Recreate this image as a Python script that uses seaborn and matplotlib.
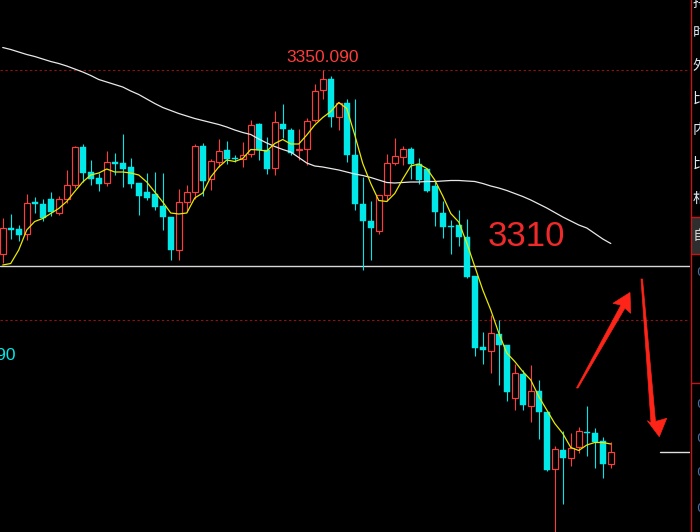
import numpy as np
import pandas as pd
import matplotlib
matplotlib.use("Agg")
import matplotlib.pyplot as plt
from matplotlib.patches import Polygon, Rectangle
import seaborn as sns

# K线数据
opens = [3313.1, 3318.4, 3318.1, 3317.1, 3323.5, 3323.2, 3324.1, 3321.3, 3324.1, 3326.9,
         3334.6, 3329.6, 3328.4, 3327.3, 3331.6, 3331.4, 3330.6, 3327.4, 3325.5, 3325.2,
         3322.8, 3320.6, 3313.9, 3323.5, 3325.5, 3334.8, 3328.1, 3331.5, 3334.0, 3332.4,
         3332.1, 3333.1, 3339.1, 3334.0, 3330.3, 3339.2, 3338.0, 3333.9, 3334.1, 3339.9,
         3345.9, 3348.2, 3340.5, 3343.4, 3333.0, 3323.2, 3319.8, 3317.7, 3324.9, 3331.3,
         3332.7, 3334.2, 3331.1, 3330.1, 3326.8, 3321.4, 3318.7, 3319.0, 3316.5, 3308.8,
         3294.6, 3293.7, 3297.2, 3295.0, 3284.3, 3289.2, 3282.7, 3285.8, 3281.6, 3270.1,
         3274.0, 3272.3, 3274.5, 3277.5, 3277.4, 3275.8, 3271.1]
highs = [3320.3, 3321.2, 3319.0, 3325.2, 3324.6, 3324.1, 3325.5, 3324.8, 3330.0, 3334.8,
         3335.2, 3332.0, 3329.3, 3333.8, 3333.3, 3337.2, 3332.4, 3327.4, 3329.4, 3329.6,
         3329.4, 3320.6, 3326.1, 3326.9, 3335.2, 3335.3, 3332.1, 3336.1, 3335.8, 3333.0,
         3335.5, 3340.0, 3339.4, 3336.7, 3341.8, 3343.2, 3338.3, 3338.2, 3340.4, 3347.1,
         3350.09, 3348.8, 3343.7, 3344.1, 3344.2, 3328.7, 3323.7, 3325.0, 3333.1, 3336.4,
         3334.8, 3334.5, 3332.4, 3330.4, 3327.7, 3323.8, 3319.9, 3322.0, 3320.2, 3308.8,
         3297.6, 3301.0, 3300.0, 3295.0, 3291.2, 3290.0, 3291.0, 3288.0, 3281.6, 3274.7,
         3277.8, 3277.3, 3278.6, 3282.8, 3278.4, 3276.6, 3275.5]
lows = [3311.3, 3316.2, 3315.7, 3315.9, 3321.3, 3319.7, 3320.7, 3321.0, 3323.3, 3326.3,
        3327.5, 3327.0, 3325.7, 3326.7, 3329.0, 3326.5, 3326.3, 3321.0, 3324.0, 3322.0,
        3318.0, 3311.9, 3312.0, 3321.5, 3324.1, 3324.7, 3326.0, 3330.7, 3331.2, 3331.5,
        3330.5, 3332.7, 3332.0, 3329.2, 3329.0, 3336.3, 3333.0, 3332.0, 3330.9, 3339.5,
        3344.2, 3338.6, 3337.9, 3331.5, 3322.0, 3309.9, 3311.9, 3317.2, 3323.7, 3331.0,
        3331.0, 3328.2, 3327.2, 3325.6, 3318.7, 3316.3, 3313.1, 3314.7, 3308.4, 3292.7,
        3291.1, 3289.3, 3287.0, 3283.7, 3281.9, 3282.0, 3279.5, 3276.1, 3269.7, 3256.0,
        3263.1, 3270.7, 3273.3, 3272.7, 3270.3, 3268.3, 3270.3]
closes = [3318.3, 3317.9, 3317.0, 3323.3, 3323.1, 3320.3, 3321.5, 3324.1, 3326.9, 3334.6,
          3329.3, 3328.2, 3327.2, 3331.5, 3331.2, 3330.2, 3327.1, 3324.8, 3324.4, 3322.6,
          3320.5, 3313.9, 3323.5, 3325.5, 3334.8, 3327.8, 3331.7, 3333.7, 3332.1, 3332.1,
          3332.9, 3338.9, 3334.0, 3330.1, 3339.5, 3338.1, 3333.4, 3334.2, 3339.7, 3345.8,
          3348.1, 3340.5, 3343.3, 3332.9, 3323.1, 3319.7, 3318.3, 3325.0, 3331.3, 3332.8,
          3334.2, 3331.1, 3327.9, 3325.7, 3321.5, 3318.5, 3318.5, 3316.5, 3308.5, 3294.3,
          3293.9, 3297.3, 3294.9, 3285.5, 3289.3, 3282.9, 3285.8, 3281.5, 3269.9, 3274.1,
          3272.3, 3274.3, 3277.7, 3277.3, 3275.5, 3271.1, 3273.5]

# 均线 (黄色短期, 白色长期)
ma_fast = [3311.0, 3311.3, 3314.0, 3318.0, 3319.7, 3320.3, 3321.3, 3322.3, 3323.7, 3325.7,
           3327.6, 3329.0, 3329.4, 3330.2, 3329.6, 3329.6, 3329.4, 3329.0, 3327.6, 3325.6,
           3323.6, 3321.4, 3321.2, 3321.4, 3324.4, 3325.4, 3328.6, 3330.6, 3332.0, 3331.7,
           3332.3, 3334.1, 3334.0, 3333.8, 3335.3, 3336.1, 3335.2, 3335.2, 3337.0, 3339.0,
           3340.5, 3341.7, 3343.5, 3342.3, 3337.0, 3331.3, 3327.3, 3323.9, 3323.7, 3325.3,
           3328.2, 3330.8, 3331.2, 3330.3, 3328.0, 3324.8, 3321.3, 3319.6, 3315.4, 3310.7,
           3306.0, 3302.0, 3297.4, 3293.4, 3291.7, 3289.7, 3288.0, 3284.7, 3282.0, 3279.3,
           3277.3, 3274.5, 3273.9, 3275.0, 3275.5, 3275.5, 3275.2]
ma_slow = [3354.5, 3354.1, 3353.6, 3353.1, 3352.7, 3352.2, 3351.7, 3351.3, 3350.8, 3350.2,
           3349.6, 3348.9, 3348.1, 3347.6, 3347.1, 3346.6, 3345.8, 3345.1, 3344.2, 3343.3,
           3342.5, 3341.9, 3341.3, 3340.8, 3340.3, 3339.9, 3339.5, 3339.1, 3338.6, 3338.0,
           3337.5, 3337.1, 3336.2, 3335.4, 3334.7, 3334.1, 3333.6, 3332.5, 3331.4, 3330.8,
           3330.6, 3330.3, 3330.0, 3329.6, 3329.2, 3328.9, 3328.5, 3328.0, 3327.5, 3327.4,
           3327.5, 3327.6, 3327.6, 3327.7, 3327.7, 3327.8, 3327.9, 3327.9, 3327.8, 3327.7,
           3327.3, 3326.8, 3326.4, 3325.9, 3325.3, 3324.7, 3324.0, 3323.2, 3322.4, 3321.5,
           3320.6, 3319.8, 3319.0, 3318.4, 3317.3, 3316.2, 3315.3]

grid_levels = [3350, 3300]
support_level = 3310.8
last_price = 3273.5
high_label = "3350.090"
low_label = "3293.090"
note_text = "3310"
side_labels = ["持仓", "时间", "外盘", "比例", "内盘", "比例", "相关"]
side_button = "自选"

RED = "#ff3c3c"
CYAN = "#00e8e8"

sns.set_style("dark", {"axes.facecolor": "black", "figure.facecolor": "black"})
plt.rcParams["font.family"] = ["Liberation Sans", "Noto Sans CJK SC", "DejaVu Sans"]

df = pd.DataFrame({"open": opens, "high": highs, "low": lows, "close": closes,
                   "ma_fast": ma_fast, "ma_slow": ma_slow})
df["idx"] = np.arange(len(df))
up = (df["close"] >= df["open"]).to_numpy()
body_lo = np.minimum(df["open"], df["close"])
body_h = np.maximum((df["close"] - df["open"]).abs(), 0.3)

fig = plt.figure(figsize=(7, 5.32), dpi=100)
fig.patch.set_facecolor("black")
ax = fig.add_axes([0, 0, 690 / 700, 1])
ax.set_facecolor("black")

# 网格虚线 + 支撑线
for lv in grid_levels:
    ax.axhline(lv, color="#8c1212", lw=0.8, ls=(0, (2.2, 2.2)), zorder=1)
ax.axhline(support_level, color="#d8d8d8", lw=1.0, zorder=1)
ax.axhline(last_price, xmin=660 / 690, xmax=1, color="#e0e0e0", lw=1.0, zorder=1)

# 影线
ax.vlines(df["idx"], df["low"], df["high"], colors=np.where(up, RED, CYAN), lw=0.8, zorder=2)
# 实体
ax.bar(df["idx"][up], body_h[up], bottom=body_lo[up], width=0.72,
       facecolor="black", edgecolor=RED, linewidth=0.85, zorder=3)
ax.bar(df["idx"][~up], body_h[~up], bottom=body_lo[~up], width=0.78,
       color=CYAN, edgecolor=CYAN, linewidth=0.3, zorder=3)

sns.lineplot(x=df["idx"], y=df["ma_slow"], ax=ax, color="#e8e8e8", lw=0.9, legend=False, zorder=4)
sns.lineplot(x=df["idx"], y=df["ma_fast"], ax=ax, color="#e8e800", lw=0.9, legend=False, zorder=4)

imax = int(df["high"].idxmax())
ax.text(imax, df["high"][imax] + 1.0, high_label, color=RED, fontsize=12.5,
        ha="center", va="bottom", zorder=5)

ax.set_xlim(-0.34, 85.9)
ax.set_ylim(3257.6, 3364)
ax.axis("off")

# 覆盖层: 标注, 箭头, 右侧面板 (像素坐标)
ov = fig.add_axes([0, 0, 1, 1])
ov.set_xlim(0, 700)
ov.set_ylim(532, 0)
ov.axis("off")
ov.patch.set_alpha(0)

ov.text(16, 355, low_label, color=CYAN, fontsize=12.5, ha="right", va="center")
ov.text(488, 236, note_text, color="#f02a2a", fontsize=25, ha="left", va="center")

arrow_up = [(576.5, 388), (621, 305), (613, 303.3), (630, 292.5), (630.7, 313.3), (625, 308), (578, 388)]
arrow_dn = [(641, 279), (651, 423), (647.3, 420.7), (659.3, 436.7), (666.7, 418.3), (655.5, 421.5), (642.5, 279)]
for pts in (arrow_up, arrow_dn):
    ov.add_patch(Polygon(pts, closed=True, facecolor="#ff2418", edgecolor="#ff2418", lw=0.5))

# 右侧面板
ov.add_patch(Rectangle((691, 217), 12, 37, facecolor="#2e2e2e", edgecolor="none"))
ov.plot([690.5, 690.5], [0, 532], color="#c81414", lw=1.0)
ov.plot([691, 700], [217.3, 217.3], color="#c81414", lw=1.0)
ov.plot([691, 700], [254.3, 254.3], color="#c81414", lw=1.0)
ov.plot([691, 700], [383.3, 383.3], color="#c81414", lw=1.0)
for lab, yc in zip(side_labels, [3, 33, 66, 99, 130, 164, 198]):
    ov.text(692.5, yc, lab, color="#dce6f2", fontsize=10.5, ha="left", va="center",
            family=["Noto Sans CJK SC", "DejaVu Sans"])
ov.text(692.5, 236, side_button, color="#d0d0d0", fontsize=10.5, ha="left", va="center",
        family=["Noto Sans CJK SC", "DejaVu Sans"])
for yc in [273, 405, 438, 472, 508]:
    ov.text(696.5, yc, "0", color="#4a6c9c", fontsize=9.5, ha="left", va="center",
            family=["DejaVu Sans"])

fig.savefig("out.png", dpi=100, facecolor="black")
